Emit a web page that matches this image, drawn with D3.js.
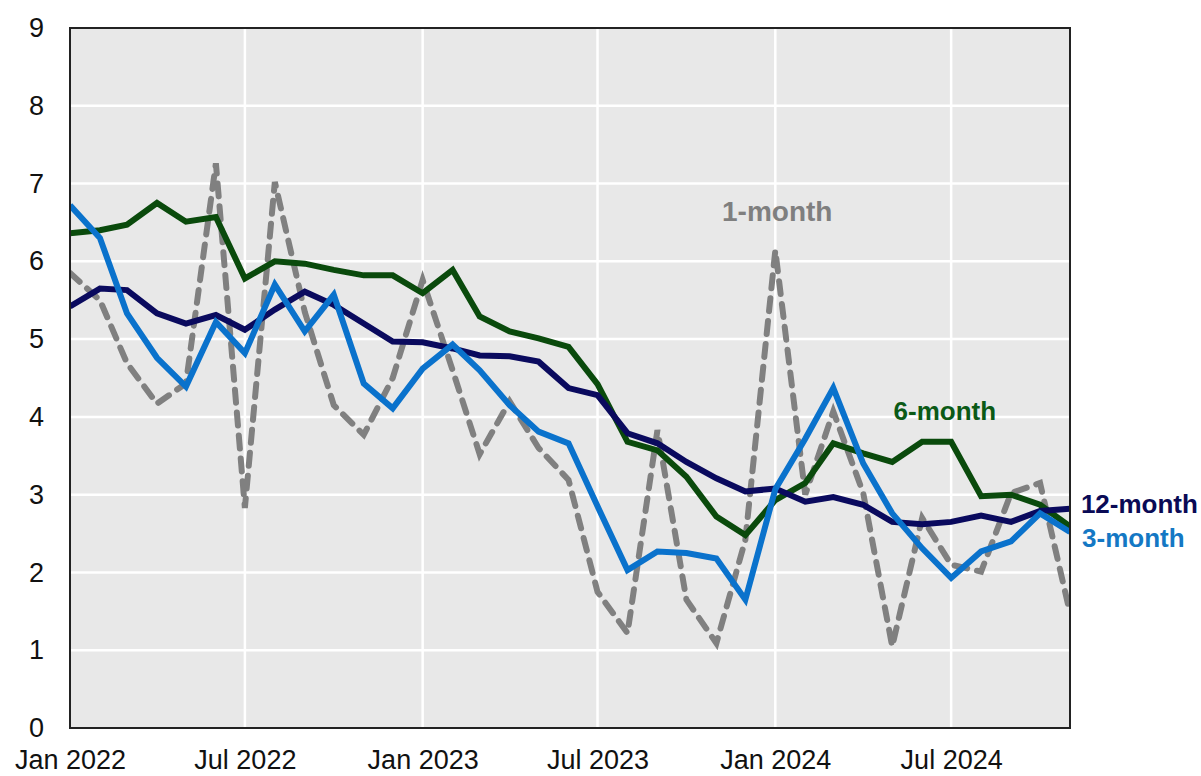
<!DOCTYPE html>
<html>
<head>
<meta charset="utf-8">
<script src="https://cdn.jsdelivr.net/npm/d3@7"></script>
<style>
  html, body { margin: 0; padding: 0; background: #ffffff; }
  svg { display: block; }
  text { font-family: "Liberation Sans", Arial, sans-serif; }
</style>
</head>
<body>
<svg id="chart" width="1201" height="776"></svg>
<script>
// Monthly periods, Jan 2022 – Nov 2024
const monthCount = 35;
const months = d3.range(monthCount).map(i => new Date(2022, i, 1));

// Annualized inflation rates, percent
const oneMonth = [
  5.85, 5.50, 4.69, 4.17, 4.43, 7.26, 2.83, 7.02, 5.35, 4.15, 3.77, 4.50,
  5.76, 4.60, 3.52, 4.20, 3.60, 3.19, 1.75, 1.22, 3.83, 1.65, 1.09, 2.42,
  6.14, 3.00, 4.07, 3.02, 1.05, 2.70, 2.10, 2.01, 3.02, 3.15, 1.48
];
const threeMonth = [
  6.72, 6.30, 5.33, 4.76, 4.39, 5.22, 4.82, 5.70, 5.10, 5.57, 4.43, 4.11,
  4.62, 4.93, 4.60, 4.15, 3.81, 3.66, 2.85, 2.03, 2.27, 2.25, 2.18, 1.65,
  3.07, 3.72, 4.37, 3.40, 2.76, 2.31, 1.93, 2.27, 2.40, 2.76, 2.52
];
const sixMonth = [
  6.36, 6.40, 6.47, 6.75, 6.51, 6.57, 5.78, 6.00, 5.97, 5.89, 5.82, 5.82,
  5.59, 5.89, 5.29, 5.10, 5.01, 4.90, 4.42, 3.68, 3.57, 3.23, 2.72, 2.48,
  2.93, 3.15, 3.66, 3.53, 3.42, 3.68, 3.68, 2.98, 3.00, 2.87, 2.59
];
const twelveMonth = [
  5.42, 5.65, 5.63, 5.33, 5.20, 5.31, 5.12, 5.38, 5.61, 5.44, 5.20, 4.97,
  4.96, 4.88, 4.79, 4.78, 4.71, 4.37, 4.28, 3.79, 3.66, 3.42, 3.21, 3.04,
  3.08, 2.91, 2.97, 2.87, 2.65, 2.62, 2.65, 2.73, 2.65, 2.79, 2.82
];

// Axis ticks
const yTicks = [0, 1, 2, 3, 4, 5, 6, 7, 8, 9];
const xTickDates = [
  new Date(2022, 0, 1), new Date(2022, 6, 1), new Date(2023, 0, 1),
  new Date(2023, 6, 1), new Date(2024, 0, 1), new Date(2024, 6, 1)
];
const xTickLabels = ["Jan 2022", "Jul 2022", "Jan 2023", "Jul 2023", "Jan 2024", "Jul 2024"];

// Series labels
const seriesLabels = ["1-month", "6-month", "12-month", "3-month"];

const svg = d3.select("#chart");
const margin = { left: 70, top: 28, right: 131, bottom: 48 };
const W = 1201, H = 776;
const plotW = W - margin.left - margin.right;
const plotH = H - margin.top - margin.bottom;

const x = d3.scaleTime()
  .domain([months[0], months[monthCount - 1]])
  .range([margin.left, margin.left + plotW]);
const y = d3.scaleLinear()
  .domain([0, 9])
  .range([margin.top + plotH, margin.top]);

// Plot background
svg.append("rect")
  .attr("x", margin.left).attr("y", margin.top)
  .attr("width", plotW).attr("height", plotH)
  .attr("fill", "#e8e8e8");

// Gridlines
const grid = svg.append("g").attr("stroke", "#ffffff").attr("stroke-width", 2.5);
grid.selectAll("line.h")
  .data(yTicks.filter(v => v > 0 && v < 9))
  .join("line")
  .attr("x1", margin.left).attr("x2", margin.left + plotW)
  .attr("y1", d => y(d)).attr("y2", d => y(d));
grid.selectAll("line.v")
  .data(xTickDates.slice(1))
  .join("line")
  .attr("x1", d => x(d)).attr("x2", d => x(d))
  .attr("y1", margin.top).attr("y2", margin.top + plotH);

// Lines
const line = d3.line()
  .x((d, i) => x(months[i]))
  .y(d => y(d));

const series = [
  { values: oneMonth, color: "#808080", dash: "13,10", cap: "round", width: 6 },
  { values: sixMonth, color: "#0a4a0c", dash: null, cap: "butt", width: 6 },
  { values: twelveMonth, color: "#0a0a5e", dash: null, cap: "butt", width: 6 },
  { values: threeMonth, color: "#0a72cc", dash: null, cap: "butt", width: 6 }
];

svg.append("clipPath").attr("id", "plotClip")
  .append("rect")
  .attr("x", margin.left).attr("y", margin.top)
  .attr("width", plotW).attr("height", plotH);

svg.append("g").attr("clip-path", "url(#plotClip)")
  .selectAll("path")
  .data(series)
  .join("path")
  .attr("d", d => line(d.values))
  .attr("fill", "none")
  .attr("stroke", d => d.color)
  .attr("stroke-width", d => d.width)
  .attr("stroke-linejoin", "miter")
  .attr("stroke-linecap", d => d.cap)
  .attr("stroke-dasharray", d => d.dash);

// Frame
svg.append("rect")
  .attr("x", margin.left).attr("y", margin.top)
  .attr("width", plotW).attr("height", plotH)
  .attr("fill", "none")
  .attr("stroke", "#222222")
  .attr("stroke-width", 2);

// Y axis labels
const yAxis = d3.axisLeft(y).tickValues(yTicks).tickSize(0).tickPadding(26).tickFormat(d3.format("d"));
svg.append("g")
  .attr("transform", `translate(${margin.left},0)`)
  .call(yAxis)
  .call(g => g.select(".domain").remove())
  .call(g => g.selectAll("text")
    .attr("font-family", "Liberation Sans, Arial, sans-serif")
    .attr("font-size", 27)
    .attr("fill", "#111"));

// X axis labels
const xAxis = d3.axisBottom(x).tickValues(xTickDates).tickSize(0).tickPadding(22)
  .tickFormat((d, i) => xTickLabels[i]);
svg.append("g")
  .attr("transform", `translate(0,${margin.top + plotH})`)
  .call(xAxis)
  .call(g => g.select(".domain").remove())
  .call(g => g.selectAll("text")
    .attr("font-family", "Liberation Sans, Arial, sans-serif")
    .attr("font-size", 27)
    .attr("fill", "#111"));

// Series labels, placed in data space
const labelSpecs = [
  { text: seriesLabels[0], month: 22.17, value: 6.52, color: "#7f7f7f", size: 28 },
  { text: seriesLabels[1], month: 28.0, value: 3.96, color: "#0b5a16", size: 26 },
  { text: seriesLabels[2], month: 34.37, value: 2.77, color: "#0a0a55", size: 26 },
  { text: seriesLabels[3], month: 34.41, value: 2.33, color: "#1478c4", size: 26 }
];
svg.append("g")
  .selectAll("text")
  .data(labelSpecs)
  .join("text")
  .attr("x", d => x(months[0]) + d.month * (plotW / (monthCount - 1)))
  .attr("y", d => y(d.value))
  .attr("font-size", d => d.size)
  .attr("font-weight", "bold")
  .attr("fill", d => d.color)
  .text(d => d.text);
</script>
</body>
</html>
